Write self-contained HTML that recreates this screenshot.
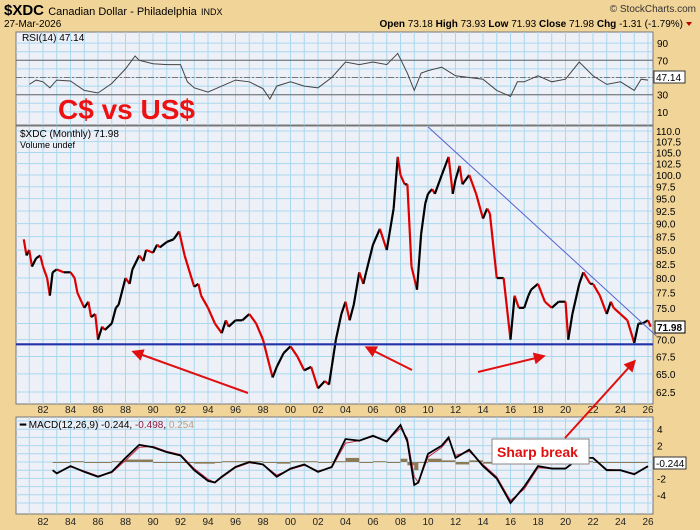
<!DOCTYPE html>
<html><head><meta charset="utf-8"><style>
body{margin:0;background:#F1D498;}
svg{display:block;font-family:"Liberation Sans",sans-serif;}
</style></head><body>
<svg id="c" width="700" height="530">
<rect x="0" y="0" width="700" height="530" fill="#F1D498"/>
<text x="4" y="15" font-size="15" font-weight="bold">$XDC <tspan font-size="11" font-weight="normal">Canadian Dollar - Philadelphia</tspan> <tspan font-size="9" font-weight="normal">INDX</tspan></text>
<text x="696" y="12" font-size="10" text-anchor="end" fill="#333">© StockCharts.com</text>
<text x="4" y="27" font-size="10">27-Mar-2026</text>
<text x="683" y="27" font-size="10" text-anchor="end"><tspan font-weight="bold">Open</tspan> 73.18 <tspan font-weight="bold">High</tspan> 73.93 <tspan font-weight="bold">Low</tspan> 71.93 <tspan font-weight="bold">Close</tspan> 71.98 <tspan font-weight="bold">Chg</tspan> -1.31 (-1.79%)</text>
<path d="M686,22 L692,22 L689,26 Z" fill="#B00"/>
<g id="rsiP"></g><g id="priceP"></g><g id="macdP"></g><g id="ann"></g>
</svg>
<script>
const NS="http://www.w3.org/2000/svg";
function mk(p,t,a){const e=document.createElementNS(NS,t);for(const k in a)e.setAttribute(k,a[k]);p.appendChild(e);return e;}
const X=yr=>43+(yr-1982)*13.75;
const L=16,R=653;
// ---- data ----
const priceYears=[1980.6,1980.8,1981,1981.2,1981.5,1981.8,1982,1982.3,1982.5,1982.7,1983,1983.5,1984,1984.3,1984.5,1985,1985.3,1985.5,1985.8,1986,1986.3,1986.5,1987,1987.3,1987.5,1988,1988.3,1988.5,1989,1989.3,1989.5,1990,1990.3,1990.5,1991,1991.5,1991.9,1992.3,1992.8,1993,1993.3,1993.5,1994,1994.5,1995,1995.3,1995.5,1996,1996.5,1997,1997.5,1998,1998.5,1998.7,1999,1999.5,2000,2000.5,2001,2001.5,2002,2002.5,2002.8,2003,2003.3,2003.7,2004,2004.3,2004.6,2005,2005.3,2005.5,2006,2006.5,2007,2007.5,2007.8,2008,2008.3,2008.5,2008.8,2009,2009.2,2009.5,2009.8,2010,2010.3,2010.5,2011,2011.5,2011.8,2012,2012.3,2012.5,2013,2013.5,2014,2014.3,2014.5,2015,2015.5,2016,2016.3,2016.6,2017,2017.3,2017.5,2018,2018.5,2019,2019.5,2020,2020.2,2020.5,2021,2021.3,2021.8,2022,2022.5,2023,2023.3,2023.5,2024,2024.5,2025,2025.3,2025.6,2026,2026.2];
const priceVals=[87,84,85,82,83.5,84,82,80,77,81,81.5,81,81,80,77.5,75,76,73.5,74,70,72,71.5,72.5,75,75.5,80,79,81.5,84,83,85,84.5,86,85.5,86.5,87,88.5,84,80,78.5,79,77,75,72.5,71,73,72,73,73,74,72.5,70,66,64.5,66,68,69,67.5,65.5,66,63,64,63.5,66,70,74,76,73,75.5,81,79,81,86,89,85,93,104,100,98,98,82,80,78,88,94,96,97,96,100,104,96,99,102,98,100,96,91,93,92,80,80,70,77,75,75,77,78,79,76,75,76,76,70,74,79,81,79,79,77,74,76,75,74,73,69.5,72.5,72.5,73,72];
const priceTicks=[62.5,65,67.5,70,72.5,75,77.5,80,82.5,85,87.5,90,92.5,95,97.5,100,102.5,105,107.5,110];
const yearTicks=["82","84","86","88","90","92","94","96","98","00","02","04","06","08","10","12","14","16","18","20","22","24","26"];
const supportLevel=[69.3];
const trendYears=[2010,2026.6], trendVals=[111,70.6];
const rsiYears=[1981,1981.5,1982,1982.5,1983,1984,1985,1986,1987,1988,1988.7,1989,1989.5,1990,1991,1992,1992.5,1993,1994,1995,1996,1997,1998,1998.5,1999,2000,2001,2002,2003,2004,2005,2006,2007,2007.8,2008.5,2009,2009.5,2010,2011,2012,2013,2014,2015,2016,2016.5,2017,2018,2019,2020,2021,2022,2023,2024,2025,2025.5,2026];
const rsiVals=[42,47,45,38,47,46,35,32,43,60,75,70,68,66,65,65,45,38,33,40,47,45,37,25,40,45,40,38,50,68,65,68,65,78,55,35,55,58,62,52,50,48,35,28,45,45,52,45,48,68,52,42,45,35,48,47];
const rsiTicks=[10,30,70,90];
const macdYears=[1982.7,1983,1984,1985,1986,1987,1988,1989,1990,1991,1992,1993,1994,1994.5,1995,1996,1997,1998,1999,2000,2001,2002,2003,2004,2005,2006,2007,2008,2008.5,2009,2009.3,2010,2011,2011.5,2012,2013,2014,2015,2016,2017,2018,2019,2020,2021,2022,2023,2024,2025,2026];
const macdVals=[-1,-1.4,-0.5,-1.2,-1.8,-1.2,0.5,2.1,1.8,1.2,0.8,-1,-2.3,-2.5,-1.8,-0.6,0,-0.3,-1.8,-0.8,-0.3,-1.2,-0.6,2.8,2.6,3.2,2.5,4.5,2.5,-2.8,-2.5,1,2,3,0.5,1.5,-0.5,-2,-5,-3,-0.5,-0.8,-0.8,0.5,0.5,-1,-1,-1.5,-0.5];
const signalVals=[-1,-1.3,-0.6,-1.1,-1.7,-1.3,0.2,1.8,1.9,1.3,0.9,-0.8,-2.1,-2.5,-1.9,-0.7,-0.1,-0.3,-1.6,-0.9,-0.4,-1.1,-0.7,2.3,2.6,3.1,2.6,4.1,2.9,-1.8,-2.5,0.6,1.8,2.8,0.8,1.3,-0.3,-1.8,-4.7,-3.3,-0.7,-0.8,-0.8,0.4,0.5,-0.9,-1,-1.4,-0.6];
const macdTicks=[-4,-2,2,4];

function yearGrid(g,top,bot){for(let y=1981;y<=2026;y++){const x=X(y);mk(g,'line',{x1:x,x2:x,y1:top,y2:bot,stroke:'#A9D8EE','stroke-width':1});}}
function xLabels(g,y){yearTicks.forEach((t,i)=>{const e=mk(g,'text',{x:X(1982+2*i),y:y,'font-size':10,'text-anchor':'middle',fill:'#222'});e.textContent=t;});}
function lineFrom(g,xs,ys,fx,fy,col,w,name){const e=mk(g,'polyline',{points:xs.map((v,i)=>fx(v)+','+fy(ys[i])).join(' '),fill:'none',stroke:col,'stroke-width':w});return e;}

// ---- RSI ----
const rg=document.getElementById('rsiP');
const RY=v=>120.5-0.86*v;
mk(rg,'rect',{x:L,y:32,width:R-L,height:93,fill:'#EEF0F8',stroke:'#777'});
yearGrid(rg,32,125);
for(let v=10;v<=90;v+=10)mk(rg,'line',{x1:L,x2:R,y1:RY(v),y2:RY(v),stroke:'#A9D8EE'});
[30,70].forEach(v=>mk(rg,'line',{x1:L,x2:R,y1:RY(v),y2:RY(v),stroke:'#666','stroke-width':1}));
mk(rg,'line',{x1:L,x2:R,y1:RY(50),y2:RY(50),stroke:'#777','stroke-dasharray':'6,2,2,2'});
rsiTicks.forEach(v=>{const e=mk(rg,'text',{x:657,y:RY(v)+4,'font-size':10});e.textContent=v;});
lineFrom(rg,rsiYears,rsiVals,X,RY,'#444',1,'rsi-line');
{const t=mk(rg,'text',{x:22,y:41,'font-size':10});t.textContent='RSI(14) 47.14';}
mk(rg,'rect',{x:654,y:71,width:31,height:12,fill:'#fff',stroke:'#333'});
{const t=mk(rg,'text',{x:656,y:81,'font-size':10});t.textContent='47.14';}

// ---- Price ----
const pg=document.getElementById('priceP');
const PY=v=>131+(Math.log(110)-Math.log(v))*461.7;
mk(pg,'rect',{x:L,y:126,width:R-L,height:278,fill:'#EEF0F8',stroke:'#777'});
yearGrid(pg,126,404);
priceTicks.forEach(v=>{mk(pg,'line',{x1:L,x2:R,y1:PY(v),y2:PY(v),stroke:'#A9D8EE'});const e=mk(pg,'text',{x:656,y:PY(v)+4,'font-size':10});e.textContent=v.toFixed(1);});
for(let i=1;i<priceYears.length;i++){const up=priceVals[i]>=priceVals[i-1];const e=mk(pg,'line',{x1:X(priceYears[i-1]),y1:PY(priceVals[i-1]),x2:X(priceYears[i]),y2:PY(priceVals[i]),stroke:up?'#000':'#D00','stroke-width':2.2});}
{const e=mk(pg,'line',{x1:L,x2:R,y1:PY(supportLevel[0]),y2:PY(supportLevel[0]),stroke:'#2233AA','stroke-width':2.2});}
lineFrom(pg,trendYears,trendVals,X,PY,'#5566CC',1,'downtrend-line');
{const t=mk(pg,'text',{x:20,y:137,'font-size':10});t.textContent='$XDC (Monthly) 71.98';
const t2=mk(pg,'text',{x:20,y:148,'font-size':9});t2.textContent='Volume undef';}
mk(pg,'rect',{x:655,y:321,width:30,height:12,fill:'#fff',stroke:'#000'});
{const t=mk(pg,'text',{x:657,y:331,'font-size':10,'font-weight':'bold'});t.textContent='71.98';}
xLabels(pg,413);

// ---- MACD ----
const mg=document.getElementById('macdP');
const MY=v=>462-8.2*v;
mk(mg,'rect',{x:L,y:417,width:R-L,height:97,fill:'#EEF0F8',stroke:'#777'});
yearGrid(mg,417,514);
for(let v=-5;v<=5;v++)mk(mg,'line',{x1:L,x2:R,y1:MY(v),y2:MY(v),stroke:'#A9D8EE'});
macdTicks.forEach(v=>{const e=mk(mg,'text',{x:657,y:MY(v)+4,'font-size':10});e.textContent=v;});
for(let i=0;i<macdYears.length-1;i++){const h=macdVals[i]-signalVals[i];const x1=X(macdYears[i]),x2=X(macdYears[i+1]);const y0=MY(0),y1=MY(h);const e=mk(mg,'rect',{x:x1,y:Math.min(y0,y1),width:x2-x1,height:Math.max(1,Math.abs(y1-y0)),fill:'#8B7A55'});}
lineFrom(mg,macdYears,signalVals,X,MY,'#C02040',1,'signal-line');
lineFrom(mg,macdYears,macdVals,X,MY,'#000',1.8,'macd-line');
{const t=mk(mg,'text',{x:20,y:428,'font-size':10});t.innerHTML='<tspan font-weight="bold">━</tspan> MACD(12,26,9) -0.244, <tspan fill="#8B1A3A">-0.498</tspan>, <tspan fill="#B8A080">0.254</tspan>';}
mk(mg,'rect',{x:654,y:457,width:32,height:12,fill:'#fff',stroke:'#333'});
{const t=mk(mg,'text',{x:656,y:467,'font-size':10});t.textContent='-0.244';}
xLabels(mg,525);

// ---- annotations ----
const ag=document.getElementById('ann');
{const t=mk(ag,'text',{x:58,y:119,'font-size':28,'font-weight':'bold',fill:'#EE1111'});t.textContent='C$ vs US$';}
mk(ag,'defs',{}).innerHTML='<marker id="ah" markerWidth="6" markerHeight="6" refX="3" refY="3" orient="auto"><path d="M0,0 L6,3 L0,6 Z" fill="#E01010"/></marker>';
[[248,393,137,353],[412,370,370,349],[478,372,540,357],[565,438,632,364]].forEach(a=>{const e=mk(ag,'line',{x1:a[0],y1:a[1],x2:a[2],y2:a[3],stroke:'#E01010','stroke-width':2,'marker-end':'url(#ah)'});});
mk(ag,'rect',{x:492,y:439,width:97,height:25,fill:'#fff',stroke:'#888'});
{const t=mk(ag,'text',{x:497,y:457,'font-size':14,'font-weight':'bold',fill:'#E01010'});t.textContent='Sharp break';}
</script>
</body></html>
